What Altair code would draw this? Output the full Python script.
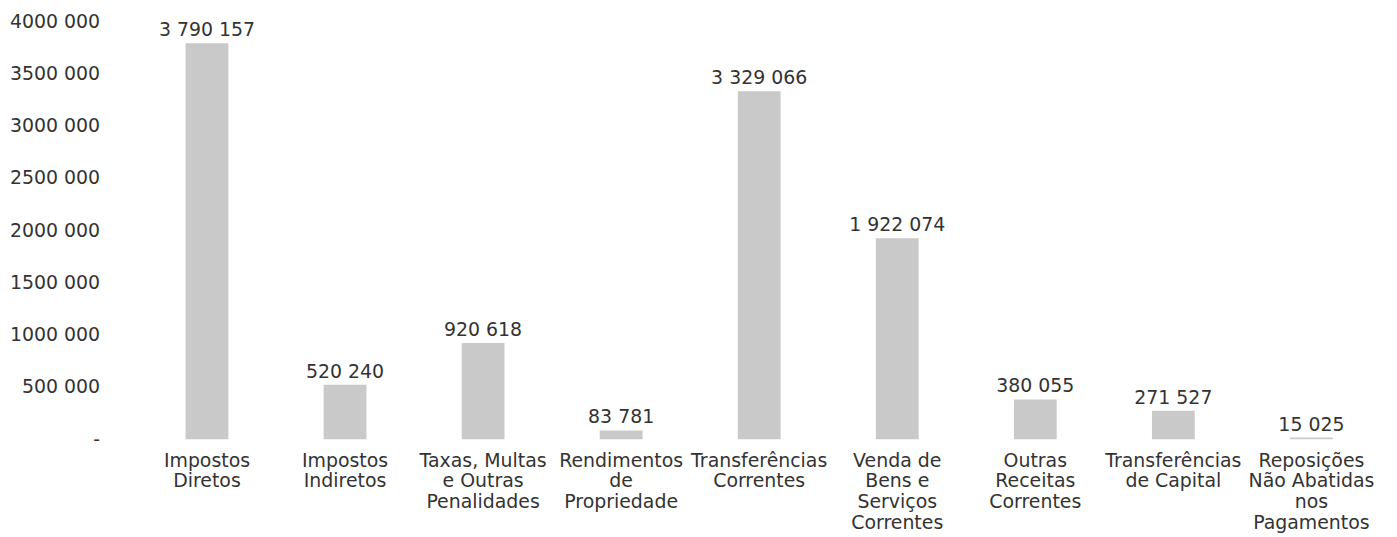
import altair as alt
import pandas as pd

categories = [
    "Impostos|Diretos",
    "Impostos|Indiretos",
    "Taxas, Multas|e Outras|Penalidades",
    "Rendimentos|de|Propriedade",
    "Transferências|Correntes",
    "Venda de|Bens e|Serviços|Correntes",
    "Outras|Receitas|Correntes",
    "Transferências|de Capital",
    "Reposições|Não Abatidas|nos|Pagamentos",
]
values = [3790157, 520240, 920618, 83781, 3329066, 1922074, 380055, 271527, 15025]
y_ticks = [0, 500000, 1000000, 1500000, 2000000, 2500000, 3000000, 3500000, 4000000]

df = pd.DataFrame({
    "cat": categories,
    "value": values,
    "label": [f"{v:,}".replace(",", " ") for v in values],
})

FONT = "DejaVu Sans"
TXT = "#333333"
FS = 19

x = alt.X(
    "cat:N",
    sort=categories,
    title=None,
    scale=alt.Scale(paddingInner=0.69, paddingOuter=0.335),
    axis=alt.Axis(
        labelAngle=0,
        labelExpr="split(datum.label, '|')",
        labelFont=FONT,
        labelFontSize=FS,
        labelColor=TXT,
        labelLineHeight=21,
        labelPadding=12,
        ticks=False,
        tickSize=0,
        domain=False,
        grid=False,
        labelBaseline="top",
        labelLimit=0,
    ),
)
y = alt.Y(
    "value:Q",
    title=None,
    scale=alt.Scale(domain=[0, 4000000], nice=False),
    axis=alt.Axis(
        values=y_ticks,
        labelExpr="datum.value == 0 ? '-\u00a0\u00a0' : format(floor(datum.value / 1000), 'd') + ' 000'",
        labelFont=FONT,
        labelFontSize=FS,
        labelColor=TXT,
        labelPadding=40,
        ticks=False,
        tickSize=0,
        domain=False,
        grid=False,
    ),
)

bars = alt.Chart(df).mark_bar(color="#c9c9c9").encode(x=x, y=y)
labels = alt.Chart(df).mark_text(
    baseline="bottom", dy=-3, font=FONT, fontSize=FS, color=TXT
).encode(x=alt.X("cat:N", sort=categories), y="value:Q", text="label:N")

chart = (
    alt.layer(bars, labels)
    .properties(
        width=1246,
        height=420,
        background="white",
        autosize=alt.AutoSizeParams(type="none"),
        padding={"left": 132, "top": 12, "right": 10, "bottom": 97},
    )
    .configure_view(strokeWidth=0, stroke="transparent")
)

chart.save("out.html", embed_options={"renderer": "svg", "actions": False})
